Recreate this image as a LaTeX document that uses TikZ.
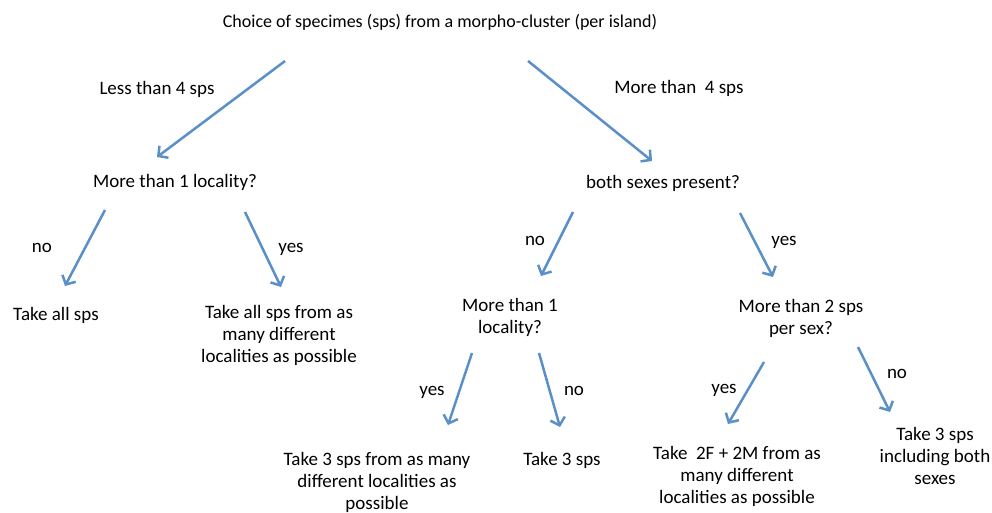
\documentclass[tikz,border=0pt]{standalone}
\usepackage{fontspec}
\setmainfont{Carlito}
\usetikzlibrary{arrows.meta}
\definecolor{arrowblue}{HTML}{5B8FC8}
\begin{document}
\begin{tikzpicture}[x=1pt,y=-1pt,
  txt/.style={anchor=base,inner sep=0pt,align=center,font=\fontsize{19}{22}\selectfont},
  arr/.style={draw=arrowblue,line width=2.5pt,-{Straight Barb[length=7pt,width=15pt,line width=2.5pt]}}]
\useasboundingbox[fill=white] (0,0) rectangle (992,513);
% texts (multi-line nodes are placed by the baseline of their last line)
\node[txt,font=\fontsize{18}{22}\selectfont] (title) at (440,28) {Choice of specimes (sps) from a morpho-cluster (per island)};
\node[txt] (less) at (157,95) {Less than 4 sps};
\node[txt] (more) at (679,94) {More than\ \ 4 sps};
\node[txt] (loc1) at (175,187) {More than 1 locality?};
\node[txt] (sexes) at (663,189) {both sexes present?};
\node[txt] (no1) at (42,252) {no};
\node[txt] (yes1) at (291,252) {yes};
\node[txt] (all) at (56,320) {Take all sps};
\node[txt] (allfrom) at (279,362) {Take all sps from as\\many different\\localities as possible};
\node[txt] (no2) at (535,245) {no};
\node[txt] (yes2) at (784,245) {yes};
\node[txt] (loc2) at (510,333) {More than 1\\locality?};
\node[txt] (persex) at (801,334) {More than 2 sps\\per sex?};
\node[txt] (yes3) at (432,395) {yes};
\node[txt] (no3) at (574,395) {no};
\node[txt] (yes4) at (724,393) {yes};
\node[txt] (no4) at (897,378) {no};
\node[txt] (three) at (377,509) {Take 3 sps from as many\\different localities as\\possible};
\node[txt] (take3) at (562,465) {Take 3 sps};
\node[txt] (twotwo) at (737,503) {Take\ \ 2F + 2M from as\\many different\\localities as possible};
\node[txt] (both) at (935,484) {Take 3 sps\\including both\\sexes};
% arrow ends
\coordinate (a1s) at (285,61);  \coordinate (a1e) at (157,157);
\coordinate (a2s) at (528,61);  \coordinate (a2e) at (652,161);
\coordinate (a3s) at (105,210); \coordinate (a3e) at (65,286);
\coordinate (a4s) at (245,212); \coordinate (a4e) at (281,287);
\coordinate (a5s) at (573,212); \coordinate (a5e) at (541,276);
\coordinate (a6s) at (740,213); \coordinate (a6e) at (773,277);
\coordinate (a7s) at (472,353); \coordinate (a7e) at (448,425);
\coordinate (a8s) at (539,353); \coordinate (a8e) at (560,427);
\coordinate (a9s) at (764,362); \coordinate (a9e) at (728,424);
\coordinate (a10s) at (858,347); \coordinate (a10e) at (890,412);
\foreach \i in {1,...,10} {\draw[arr] (a\i s) -- (a\i e);}
\end{tikzpicture}
\end{document}
